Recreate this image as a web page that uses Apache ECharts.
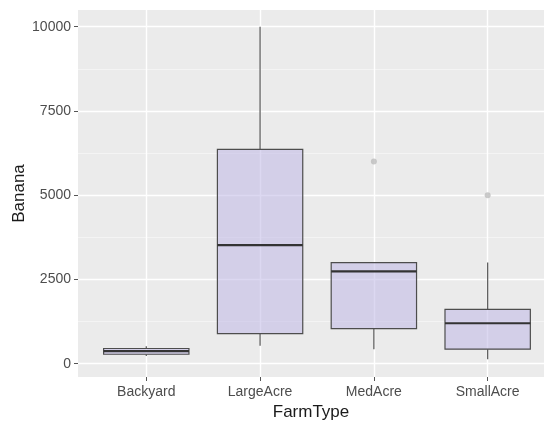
<!DOCTYPE html>
<html>
<head>
<meta charset="utf-8">
<script src="https://cdn.jsdelivr.net/npm/echarts@6/dist/echarts.min.js"></script>
<style>
  html, body { margin: 0; padding: 0; background: #ffffff; }
  #chart { width: 544px; height: 424px; }
</style>
</head>
<body>
<div id="chart"></div>
<script>
// Banana harvest by farm type: five-number summaries per box
const categories = ['Backyard', 'LargeAcre', 'MedAcre', 'SmallAcre'];
const whiskerLow = [230, 530, 430, 130];
const q1 = [280, 890, 1040, 430];
const median = [370, 3520, 2740, 1200];
const q3 = [450, 6360, 3000, 1610];
const whiskerHigh = [520, 10000, 3000, 3000];
// points beyond the whiskers: [category index, value]
const outliers = [[2, 6000], [3, 5000]];

const yMajorTicks = [0, 2500, 5000, 7500, 10000];
const yMinorTicks = [1250, 3750, 6250, 8750];
const xTicks = [0, 1, 2, 3];

const boxData = categories.map((c, i) => [i, whiskerLow[i], q1[i], median[i], q3[i], whiskerHigh[i]]);

const chart = echarts.init(document.getElementById('chart'));

const FONT = 'Liberation Sans, Arial, sans-serif';
const labelFont = { color: '#4d4d4d', fontSize: 14, fontFamily: FONT };
const titleFont = { color: '#1a1a1a', fontSize: 17, fontFamily: FONT };
const hiddenLine = { show: true, onZero: false, lineStyle: { color: 'rgba(0,0,0,0)' } };
const tickStyle = { color: '#555555', width: 1 };

function renderBox(params, api) {
  const x = api.value(0);
  const halfW = api.size([0.75, 0])[0] / 2;
  const pLow = api.coord([x, api.value(1)]);
  const pQ1 = api.coord([x, api.value(2)]);
  const pMed = api.coord([x, api.value(3)]);
  const pQ3 = api.coord([x, api.value(4)]);
  const pHigh = api.coord([x, api.value(5)]);
  const cx = pQ1[0];
  const lineStyle = { stroke: '#555555', lineWidth: 1.2, fill: null };
  const children = [
    { type: 'line', shape: { x1: cx, y1: pQ1[1], x2: cx, y2: pLow[1] }, style: lineStyle },
    { type: 'line', shape: { x1: cx, y1: pQ3[1], x2: cx, y2: pHigh[1] }, style: lineStyle },
    {
      type: 'rect',
      shape: { x: cx - halfW, y: pQ3[1], width: halfW * 2, height: pQ1[1] - pQ3[1] },
      style: { fill: 'rgba(191,184,230,0.55)', stroke: '#4d4d4d', lineWidth: 1.2 }
    },
    {
      type: 'line',
      shape: { x1: cx - halfW, y1: pMed[1], x2: cx + halfW, y2: pMed[1] },
      style: { stroke: '#333333', lineWidth: 2.2 }
    }
  ];
  return { type: 'group', children: children };
}

chart.setOption({
  animation: false,
  backgroundColor: '#ffffff',
  // fixed panel rectangle; it runs off the right edge of the canvas
  grid: {
    left: 78, right: 0, top: 10, height: 367,
    outerBoundsMode: 'none', containLabel: false,
    backgroundColor: '#ebebeb', show: true, borderWidth: 0
  },
  xAxis: {
    type: 'value',
    min: -0.6,
    max: 3.495,
    name: 'FarmType',
    nameLocation: 'middle',
    nameGap: 27,
    nameMoveOverlap: false,
    nameTextStyle: titleFont,
    axisLine: hiddenLine,
    axisTick: { show: true, length: 4, customValues: xTicks, lineStyle: tickStyle },
    axisLabel: Object.assign({ margin: 8, customValues: xTicks, formatter: v => categories[Math.round(v)] }, labelFont),
    splitLine: { show: true, lineStyle: { color: '#ffffff', width: 1.4 } }
  },
  yAxis: [
    {
      type: 'value',
      min: -395,
      max: 10495,
      name: 'Banana',
      nameLocation: 'middle',
      nameGap: 50,
      nameMoveOverlap: false,
      nameTextStyle: titleFont,
      axisLine: hiddenLine,
      axisTick: { show: true, length: 4, customValues: yMajorTicks, lineStyle: tickStyle },
      axisLabel: Object.assign({ margin: 7, customValues: yMajorTicks, formatter: v => String(v) }, labelFont),
      splitLine: { show: true, lineStyle: { color: '#ffffff', width: 1.4 } }
    },
    {
      type: 'value',
      min: -395,
      max: 10495,
      position: 'left',
      axisLine: { show: false, onZero: false },
      axisTick: { show: false, customValues: yMinorTicks },
      axisLabel: { show: false, customValues: yMinorTicks },
      splitLine: { show: true, lineStyle: { color: '#f4f4f4', width: 1 } }
    }
  ],
  series: [
    {
      type: 'custom',
      renderItem: renderBox,
      data: boxData,
      encode: { x: 0, y: [1, 2, 3, 4, 5] },
      z: 3
    },
    {
      type: 'scatter',
      data: outliers,
      symbol: 'circle',
      symbolSize: 6,
      itemStyle: { color: '#bdbdbd' },
      z: 4
    }
  ]
});
</script>
</body>
</html>
